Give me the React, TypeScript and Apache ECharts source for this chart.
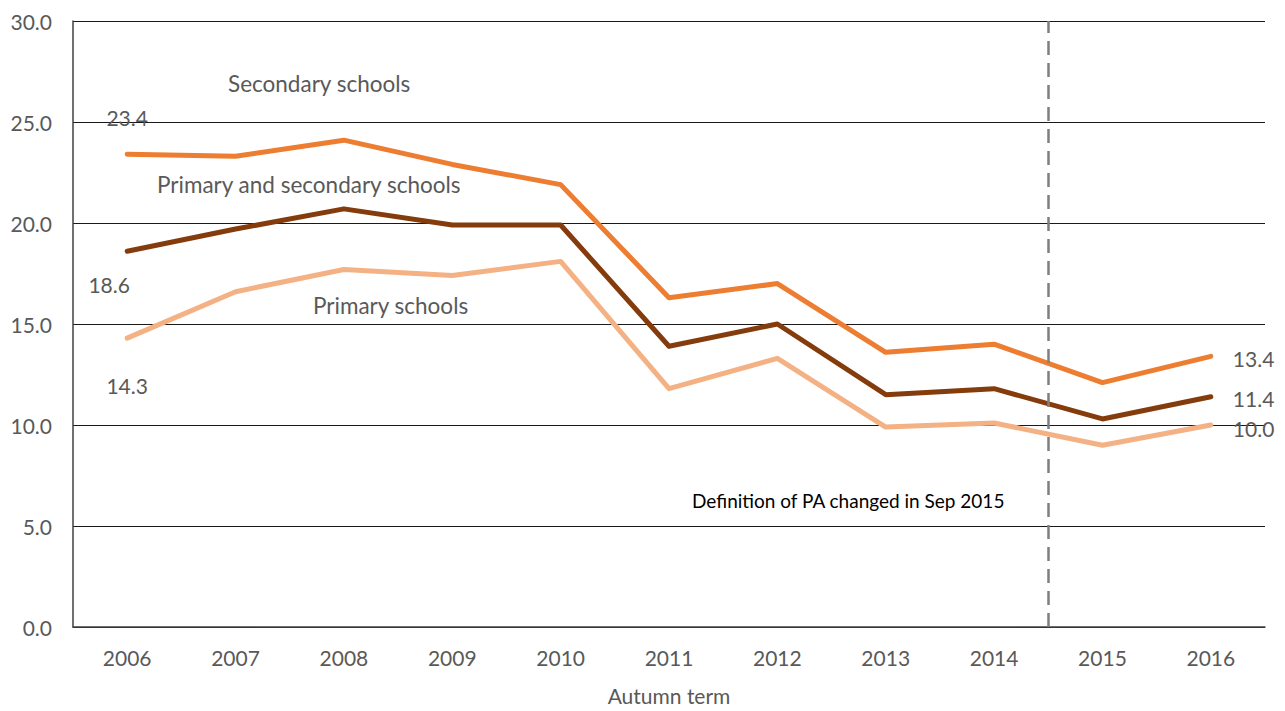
import React, { useEffect, useRef } from "react";
import * as echarts from "echarts";

const years = ["2006", "2007", "2008", "2009", "2010", "2011", "2012", "2013", "2014", "2015", "2016"];
const secondary = [23.4, 23.3, 24.1, 22.9, 21.9, 16.3, 17.0, 13.6, 14.0, 12.1, 13.4];
const combined = [18.6, 19.7, 20.7, 19.9, 19.9, 13.9, 15.0, 11.5, 11.8, 10.3, 11.4];
const primary = [14.3, 16.6, 17.7, 17.4, 18.1, 11.8, 13.3, 9.9, 10.1, 9.0, 10.0];
const changeAt = 8.5; // boundary between 2014 and 2015

const FONT = "Lato, 'Open Sans', sans-serif";
const GREY = "#595959";

function withLabels(values: number[], first: any, last: any) {
  return values.map((v, i) => {
    if (i === 0) return { value: v, label: { show: true, ...first } };
    if (i === values.length - 1) return { value: v, label: { show: true, ...last } };
    return v;
  });
}

export default function App() {
  const ref = useRef<HTMLDivElement>(null);
  useEffect(() => {
    if (!ref.current) return;
    const chart = echarts.init(ref.current, null, { renderer: "svg" });
    const labelStyle = { color: GREY, fontSize: 21, fontFamily: FONT, formatter: (p: any) => Number(p.value).toFixed(1) };
    const endLabel = { ...labelStyle, position: "right", distance: 22 };
    const common = {
      type: "line",
      symbol: "circle",
      symbolSize: 0,
      showSymbol: true,
      z: 3,
    };
    chart.setOption({
      animation: false,
      backgroundColor: "#ffffff",
      textStyle: { fontFamily: FONT },
      grid: { left: 73, right: 20, top: 21, bottom: 81, containLabel: false },
      xAxis: [
        {
          type: "category",
          data: years,
          boundaryGap: true,
          axisLine: { lineStyle: { color: "#404040", width: 1.5 } },
          axisTick: { show: false },
          axisLabel: { color: GREY, fontSize: 21, fontFamily: FONT, margin: 20 },
          name: "Autumn term",
          nameLocation: "middle",
          nameGap: 58,
          nameTextStyle: { color: GREY, fontSize: 21, fontFamily: FONT },
        },
        {
          type: "value",
          min: -0.5,
          max: 10.5,
          show: false,
        },
      ],
      yAxis: {
        type: "value",
        min: 0,
        max: 30,
        interval: 5,
        axisLine: { show: true, onZero: false, lineStyle: { color: "#404040", width: 1.5 } },
        axisTick: { show: false },
        axisLabel: { color: GREY, fontSize: 21, fontFamily: FONT, margin: 21, formatter: (v: number) => v.toFixed(1) },
        splitLine: { lineStyle: { color: "#1a1a1a", width: 1 } },
      },
      series: [
        {
          ...common,
          name: "Secondary schools",
          data: withLabels(secondary, { ...labelStyle, position: "inside", offset: [0, -37] }, { ...endLabel, offset: [0, 2] }),
          lineStyle: { color: "#ED7D31", width: 5, cap: "round", join: "round" },
          itemStyle: { color: "#ED7D31" },
        },
        {
          ...common,
          name: "Primary and secondary schools",
          data: withLabels(combined, { ...labelStyle, position: "inside", offset: [-18, 33] }, { ...endLabel, offset: [0, 2] }),
          lineStyle: { color: "#843C0C", width: 5, cap: "round", join: "round" },
          itemStyle: { color: "#843C0C" },
        },
        {
          ...common,
          name: "Primary schools",
          data: withLabels(primary, { ...labelStyle, position: "inside", offset: [0, 47] }, { ...endLabel, offset: [0, 3] }),
          lineStyle: { color: "#F4B183", width: 5, cap: "round", join: "round" },
          itemStyle: { color: "#F4B183" },
        },
        {
          type: "line",
          xAxisIndex: 1,
          data: [[changeAt, 0]],
          symbol: "none",
          silent: true,
          lineStyle: { opacity: 0 },
          markLine: {
            silent: true,
            symbol: "none",
            label: { show: false },
            lineStyle: { color: "#7f7f7f", type: [14, 8], width: 2.5 },
            data: [{ xAxis: changeAt }],
          },
        },
      ],
      graphic: [
        { type: "text", left: 228, top: 72, style: { text: "Secondary schools", fill: GREY, font: `22.5px ${FONT}` } },
        { type: "text", left: 157, top: 173, style: { text: "Primary and secondary schools", fill: GREY, font: `22.5px ${FONT}` } },
        { type: "text", left: 313, top: 294, style: { text: "Primary schools", fill: GREY, font: `22.5px ${FONT}` } },
        { type: "text", left: 692, top: 491, style: { text: "Definition of PA changed in Sep 2015", fill: "#000000", font: `19px ${FONT}` } },
      ],
    });
    return () => chart.dispose();
  }, []);
  return <div ref={ref} style={{ width: 1285, height: 711, position: "absolute", left: 0, top: 0 }} />;
}
